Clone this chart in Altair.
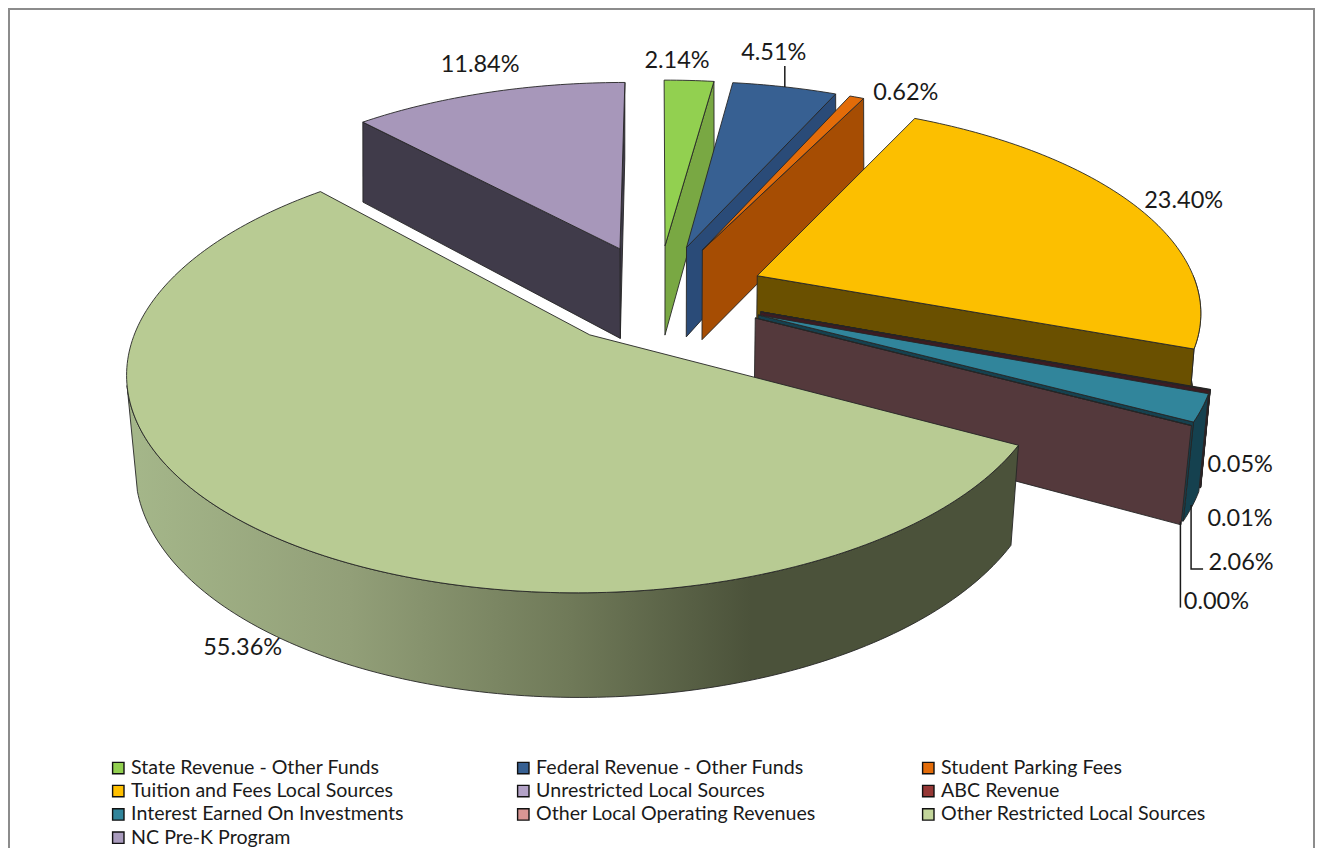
import numpy as np
import altair as alt

names = ["State Revenue - Other Funds", "Federal Revenue - Other Funds", "Student Parking Fees",
         "Tuition and Fees Local Sources", "Unrestricted Local Sources", "ABC Revenue",
         "Interest Earned On Investments", "Other Local Operating Revenues",
         "Other Restricted Local Sources", "NC Pre-K Program"]
values = [2.14, 4.51, 0.62, 23.40, 0.05, 0.01, 2.06, 0.00, 55.36, 11.84]
labels = ["2.14%", "4.51%", "0.62%", "23.40%", "0.05%", "0.01%", "2.06%", "0.00%", "55.36%", "11.84%"]
legend_colors = ["#92d050", "#376092", "#e36c09", "#ffc000", "#b3a2c7", "#953735", "#31859b", "#d99694", "#c3d69b", "#a99bbd"]
top_colors = ["#92d050", "#376092", "#e36c09", "#fcbf00", "#3c1c22", "#3c1c22", "#31859b", "#54393c", "#b8cb93", "#a797ba"]
wall_colors = ["#79a843", "#2a4b78", "#a64d03", "#6a5000", "#3c1c22", "#3c1c22", "#15414f", "#54393c", "#4b523a", "#403b4a"]
walls = [["end"], ["end"], ["end"], ["outer", "end"], ["outer", "end"], ["outer", "end"],
         ["outer", "end"], ["end"], ["outer"], ["end", "start"]]
draw_order = [9, 0, 1, 2, 3, 4, 5, 6, 7, 8]
label_offsets = [(-12, -19), (-11, -34), (49, -4), (48, -5), (30, 75), (30, 129), (39, 155), (25, 176), (-19, 117), (-8, -27)]
leaders = {1: [(0, 0), (0, -21)], 6: [(-11, 97), (-11, 161), (1, 161)], 7: [(-11, 96), (-11, 182)]}
gradient_stops = [(0.0, "#a5b78a"), (0.25, "#929f78"), (0.5, "#6f7958"), (0.7, "#4b523a"), (1.0, "#4b523a")]

W, H = 1307, 840
CX, CY, RX, RY, P = 658, 294, 442, 204.6, 0.153
CYB, RXB, RYB, Q = 386.4, 437, 217, 0.14
EXPLODE = 0.245

total = sum(values)
cum = np.cumsum([0] + values) / total * 360


def top(a, m):
    u = np.sin(np.radians(a)) + EXPLODE * np.sin(np.radians(m))
    v = np.cos(np.radians(a)) + EXPLODE * np.cos(np.radians(m))
    s = 1 / (1 + P * v)
    return CX + RX * u * s, CY - RY * v * s


def bottom(a, m):
    u = np.sin(np.radians(a)) + EXPLODE * np.sin(np.radians(m))
    v = np.cos(np.radians(a)) + EXPLODE * np.cos(np.radians(m))
    s = 1 / (1 + Q * v)
    return CX + RXB * u * s, CYB - RYB * v * s


def apex(m, fn):
    u = EXPLODE * np.sin(np.radians(m))
    v = EXPLODE * np.cos(np.radians(m))
    if fn is top:
        s = 1 / (1 + P * v)
        return CX + RX * u * s, CY - RY * v * s
    s = 1 / (1 + Q * v)
    return CX + RXB * u * s, CYB - RYB * v * s


def arc(a0, a1, m, fn):
    n = max(2, int(abs(a1 - a0)) + 2)
    return [fn(a, m) for a in np.linspace(a0, a1, n)]


xs = alt.Scale(domain=[8, 8 + W])
ys = alt.Scale(domain=[8 + H, 8])


def poly(points, **mark):
    pts = list(points) + [points[0]]
    rows = [{"x": float(x), "y": float(y), "i": i} for i, (x, y) in enumerate(pts)]
    return alt.Chart(alt.Data(values=rows)).mark_line(strokeJoin="round", **mark).encode(
        x=alt.X("x:Q", scale=xs, axis=None),
        y=alt.Y("y:Q", scale=ys, axis=None),
        order=alt.Order("i:Q"),
    )


def open_line(points, **mark):
    rows = [{"x": float(x), "y": float(y), "i": i} for i, (x, y) in enumerate(points)]
    return alt.Chart(alt.Data(values=rows)).mark_line(**mark).encode(
        x=alt.X("x:Q", scale=xs, axis=None),
        y=alt.Y("y:Q", scale=ys, axis=None),
        order=alt.Order("i:Q"),
    )


layers = []
EDGE = dict(stroke="#262626", strokeWidth=0.9)
wall_gradient = alt.LinearGradient(
    gradient="linear", x1=0, y1=0, x2=1, y2=0,
    stops=[alt.GradientStop(offset=o, color=c) for o, c in gradient_stops],
)

for idx in draw_order:
    a0, a1 = cum[idx], cum[idx + 1]
    m = (a0 + a1) / 2
    fill = wall_colors[idx]
    for w in walls[idx]:
        if w == "end" or w == "start":
            a = a1 if w == "end" else a0
            q = [apex(m, top), top(a, m), bottom(a, m), apex(m, bottom)]
            layers.append(poly(q, fill=fill, **EDGE))
        else:
            lo = max(a0, 90.0)
            hi_top = min(a1, 257.0)
            hi_bot = min(a1, 255.0)
            if hi_top > lo:
                q = arc(lo, hi_top, m, top) + arc(hi_bot, lo, m, bottom)
                layers.append(poly(q, fill=wall_gradient if idx == 8 else fill, **EDGE))
    face = [apex(m, top)] + arc(a0, a1, m, top)
    layers.append(poly(face, fill=top_colors[idx], **EDGE))

label_rows = []
for idx, (dx, dy) in enumerate(label_offsets):
    m = (cum[idx] + cum[idx + 1]) / 2
    if idx == 7:
        m = cum[idx]
    ax, ay = top(m, m)
    label_rows.append({"x": float(ax + dx), "y": float(ay + dy), "t": labels[idx]})
    if idx in leaders:
        layers.append(open_line([(ax + ox, ay + oy) for ox, oy in leaders[idx]], stroke="#1a1a1a", strokeWidth=1.5))

text_layer = alt.Chart(alt.Data(values=label_rows)).mark_text(
    font="Lato", fontSize=23.5, color="#1a1a1a", align="center", baseline="middle"
).encode(x=alt.X("x:Q", scale=xs, axis=None), y=alt.Y("y:Q", scale=ys, axis=None), text="t:N")
layers.append(text_layer)

frame_x = [9, 9, 1314, 1314]
frame_y = [8 + H, 9, 9, 8 + H]
layers.append(open_line(list(zip(frame_x, frame_y)), stroke="#8c8c8c", strokeWidth=2))

legend_layer = alt.Chart(alt.Data(values=[{"n": n} for n in names])).mark_square(size=0).encode(
    x=alt.value(0), y=alt.value(0),
    color=alt.Color("n:N", scale=alt.Scale(domain=names, range=legend_colors),
                    legend=alt.Legend(orient="none", legendX=100.5, legendY=750, columns=3, direction="horizontal",
                                      title=None, symbolType="square", symbolSize=130, symbolStrokeColor="#111111",
                                      symbolStrokeWidth=1.4, symbolOpacity=1, labelFont="Lato", labelFontSize=19.6,
                                      labelColor="#1a1a1a", labelOffset=3, labelLimit=400, columnPadding=102,
                                      rowPadding=2.3, gridAlign="all", symbolOffset=0)),
)
layers.append(legend_layer)

chart = alt.layer(*layers).properties(
    width=W, height=H, padding=0, autosize=alt.AutoSizeParams(type="none"),
    background="white",
).configure_view(stroke=None)

chart.save("out.html", embed_options={"renderer": "svg", "actions": False})
